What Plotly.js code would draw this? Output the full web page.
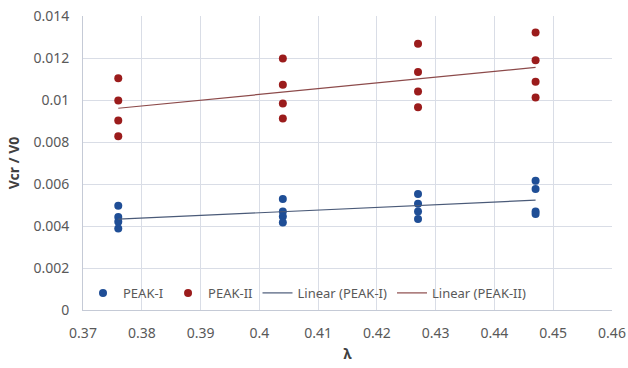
<!DOCTYPE html>
<html>
<head>
<meta charset="utf-8">
<script src="https://cdn.plot.ly/plotly-3.0.1.min.js"></script>
<style>html,body{margin:0;padding:0;background:#fff}#chart{width:628px;height:368px}</style>
</head>
<body>
<div id="chart"></div>
<script>
// lambda values (one per group of measurements)
const lambdaPeakI  = [0.376,0.376,0.376,0.376, 0.404,0.404,0.404,0.404, 0.427,0.427,0.427,0.427, 0.447,0.447,0.447,0.447];
const vcrPeakI     = [0.00496,0.00443,0.00420,0.00388, 0.00528,0.00469,0.00445,0.00417, 0.00552,0.00506,0.00469,0.00433, 0.00616,0.00576,0.00469,0.00457];
const lambdaPeakII = [0.376,0.376,0.376,0.376, 0.404,0.404,0.404,0.404, 0.427,0.427,0.427,0.427, 0.447,0.447,0.447,0.447];
const vcrPeakII    = [0.01104,0.00998,0.00902,0.00827, 0.01198,0.01073,0.00983,0.00912, 0.01268,0.01133,0.01041,0.00966, 0.01321,0.01189,0.01087,0.01012];
const seriesNames  = ["PEAK-I","PEAK-II","Linear (PEAK-I)","Linear (PEAK-II)"];
const xTicks = [0.37,0.38,0.39,0.4,0.41,0.42,0.43,0.44,0.45,0.46];
const yTicks = [0,0.002,0.004,0.006,0.008,0.01,0.012,0.014];

function fit(xs, ys){
  const n = xs.length;
  const mx = xs.reduce((a,b)=>a+b,0)/n, my = ys.reduce((a,b)=>a+b,0)/n;
  let sxy=0, sxx=0;
  for(let i=0;i<n;i++){sxy+=(xs[i]-mx)*(ys[i]-my); sxx+=(xs[i]-mx)**2;}
  const b = sxy/sxx, a = my - b*mx;
  const x0 = Math.min(...xs), x1 = Math.max(...xs);
  return {x:[x0,x1], y:[a+b*x0, a+b*x1]};
}
const f1 = fit(lambdaPeakI, vcrPeakI), f2 = fit(lambdaPeakII, vcrPeakII);

const font = {family:"Noto Sans, Open Sans, sans-serif", size:13, color:"#595959"};
const traces = [
  {x:lambdaPeakI, y:vcrPeakI, mode:"markers", type:"scatter", name:seriesNames[0],
   marker:{color:"#1F4E96", size:8}},
  {x:lambdaPeakII, y:vcrPeakII, mode:"markers", type:"scatter", name:seriesNames[1],
   marker:{color:"#9B1C1C", size:8}},
  {x:f1.x, y:f1.y, mode:"lines", type:"scatter", name:seriesNames[2],
   line:{color:"#4A5A78", width:1.2}},
  {x:f2.x, y:f2.y, mode:"lines", type:"scatter", name:seriesNames[3],
   line:{color:"#8C4A4A", width:1.2}}
];
const layout = {
  width:628, height:368,
  margin:{l:83, r:16, t:16, b:58},
  paper_bgcolor:"#fff", plot_bgcolor:"#fff",
  font:font,
  showlegend:true,
  legend:{orientation:"h", x:0.0, xanchor:"left", y:0.058, yanchor:"middle",
          bgcolor:"rgba(0,0,0,0)", font:{family:font.family, size:13, color:"#595959"},
          traceorder:"normal", itemwidth:30},
  xaxis:{range:[0.37,0.46], tickvals:xTicks, ticktext:xTicks.map(String), showgrid:true, gridcolor:"#D9DDE6",
         showline:true, linecolor:"#C5CAD6", linewidth:1, zeroline:false, ticks:"",
         ticklabelstandoff:10,
         tickfont:{size:14, color:"#595959"},
         title:{text:"<b>λ</b>", font:{size:14, color:"#404040"}, standoff:8}},
  yaxis:{range:[0,0.014], tickvals:yTicks, ticktext:yTicks.map(String), showgrid:true, gridcolor:"#D9DDE6",
         showline:true, linecolor:"#C5CAD6", linewidth:1, zeroline:false, ticks:"",
         ticklabelstandoff:10,
         tickfont:{size:14, color:"#595959"},
         title:{text:"<b>Vcr / V0</b>", font:{size:14, color:"#404040"}, standoff:10}}
};
Plotly.newPlot("chart", traces, layout, {displayModeBar:false, staticPlot:true});
</script>
</body>
</html>
